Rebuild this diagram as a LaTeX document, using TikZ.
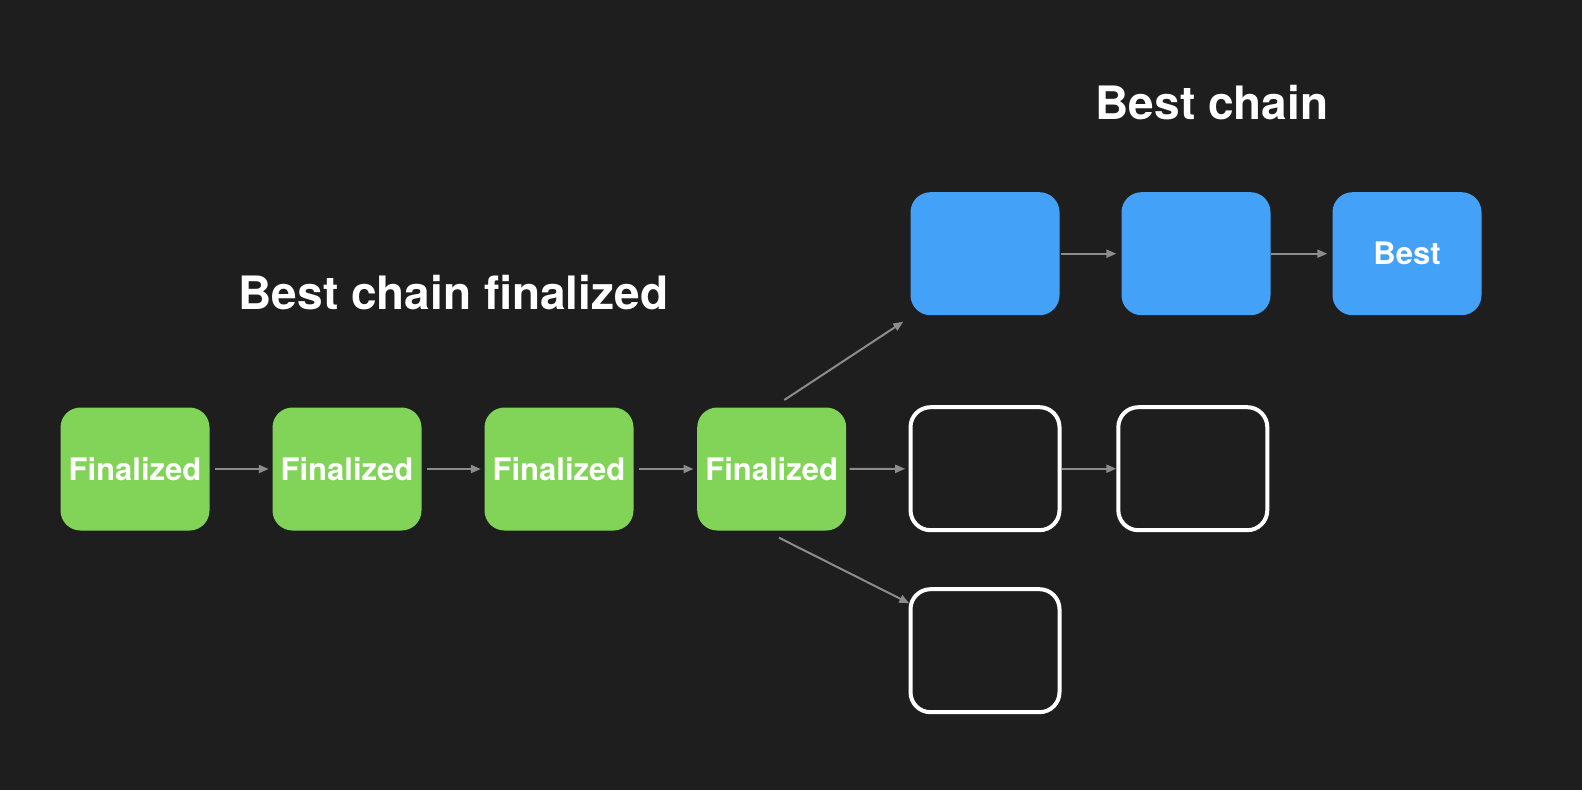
\documentclass[tikz,border=0pt]{standalone}
\usepackage{fontspec}
\setmainfont{TeX Gyre Heros}
\usetikzlibrary{arrows.meta,calc}
\definecolor{bg}{HTML}{1E1E1E}
\definecolor{fingreen}{HTML}{82D458}
\definecolor{bestblue}{HTML}{43A1F7}
\definecolor{arrgrey}{HTML}{8C8C8C}
\tikzset{
  blockbox/.style={minimum width=149pt,minimum height=123pt,inner sep=0pt,rounded corners=20pt,text=white,font=\bfseries\fontsize{31}{36}\selectfont},
  finbox/.style={blockbox,fill=fingreen},
  bluebox/.style={blockbox,fill=bestblue},
  emptybox/.style={blockbox,draw=white,line width=4pt},
  conn/.style={draw=arrgrey,line width=2pt,-{Triangle[length=10pt,width=8pt]}},
  title/.style={text=white,anchor=base,inner sep=0pt,font=\bfseries\fontsize{46}{52}\selectfont}
}
\begin{document}
\begin{tikzpicture}[x=1pt,y=-1pt]
\path[fill=bg,use as bounding box] (0,0) rectangle (1582,790);

\node[title] (t1) at (453.4,309) {Best chain finalized};
\node[title] (t2) at (1212,119.3) {Best chain};

\node[finbox] (g1) at (135,469) {Finalized};
\node[finbox] (g2) at (347,469) {Finalized};
\node[finbox] (g3) at (559,469) {Finalized};
\node[finbox] (g4) at (771.7,469) {Finalized};

\node[bluebox] (b1) at (985,253.7) {};
\node[bluebox] (b2) at (1196,253.7) {};
\node[bluebox] (b3) at (1407,253.7) {Best};

\node[emptybox] (o1) at (985,468.7) {};
\node[emptybox] (o2) at (1192.8,468.7) {};
\node[emptybox] (o3) at (985,650.7) {};

\draw[conn,shorten <=5pt,shorten >=3.5pt] (g1) -- (g2);
\draw[conn,shorten <=5pt,shorten >=3.5pt] (g2) -- (g3);
\draw[conn,shorten <=5pt,shorten >=3.5pt] (g3) -- (g4);
\draw[conn,shorten <=3.3pt,shorten >=3.3pt] (g4) -- (o1);
\draw[conn] (o1) -- (o2);
\draw[conn,shorten <=1.7pt,shorten >=5pt] (b1) -- (b2);
\draw[conn,shorten <=0.7pt,shorten >=5pt] (b2) -- (b3);

\coordinate (u0) at (784.3,400);
\coordinate (u1) at (903.3,321.7);
\coordinate (d0) at (779,537.7);
\coordinate (d1) at (909.3,603.3);
\draw[conn] (u0) -- (u1);
\draw[conn] (d0) -- (d1);
\end{tikzpicture}
\end{document}
